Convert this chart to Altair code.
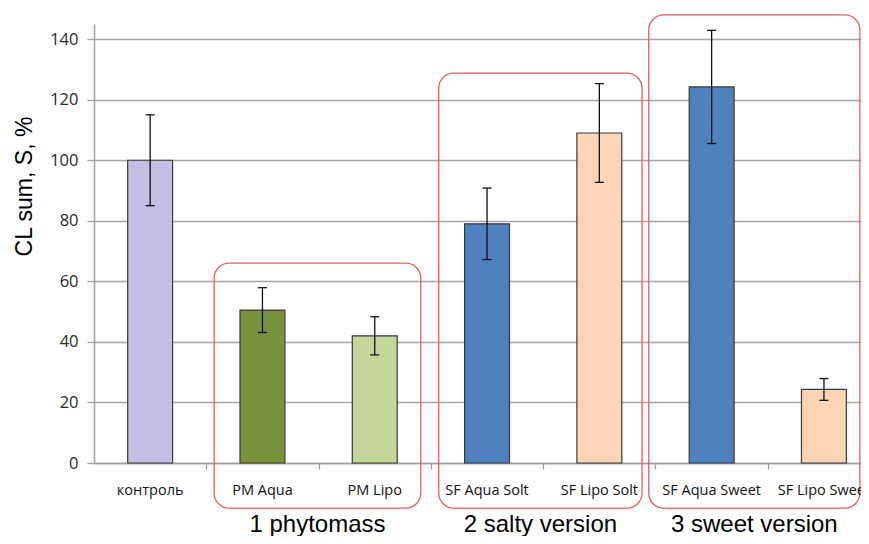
import altair as alt
import pandas as pd

categories = ["контроль", "PM Aqua", "PM Lipo", "SF Aqua Solt", "SF Lipo Solt", "SF Aqua Sweet", "SF Lipo Sweet"]
values = [100, 50.5, 42, 79, 109, 124.2, 24.3]
errors = [15, 7.4, 6.3, 11.8, 16.3, 18.7, 3.6]
colors = ["#C6BFE4", "#77933C", "#C4D79B", "#4F81BD", "#FCD5B4", "#4F81BD", "#FCD5B4"]

groups = ["1 phytomass", "2 salty version", "3 sweet version"]
group_start = [0.57, 2.57, 4.44]
group_end = [2.41, 4.38, 6.32]
group_top = [66, 128.8, 148]
group_bottom = [-14.9, -14.9, -14.9]

y_ticks = [0, 20, 40, 60, 80, 100, 120, 140]

df = pd.DataFrame({
    "i": list(range(len(categories))),
    "cat": categories,
    "v": values,
    "e": errors,
    "c": colors,
})
gdf = pd.DataFrame({
    "g": groups,
    "x0": group_start,
    "x1": group_end,
    "top": group_top,
    "bot": group_bottom,
})
gdf["xm"] = (gdf["x0"] + gdf["x1"]) / 2

xscale = alt.Scale(domain=[-0.5, 6.33], nice=False, zero=False)
yscale = alt.Scale(domain=[0, 145], nice=False)

FONT = "Open Sans"

xaxis = alt.Axis(
    values=[0.5, 1.5, 2.5, 3.5, 4.5, 5.5], labels=False, title=None, grid=False,
    tickSize=6, tickColor="#A0A0A0", domainColor="#A0A0A0", domainWidth=1.5, tickWidth=1.3)
yaxis = alt.Axis(
    values=y_ticks, title="CL sum, S, %", grid=True, gridColor="#A6A6A6", gridWidth=1.4,
    tickSize=7, tickColor="#A0A0A0", domainColor="#A0A0A0", domainWidth=1.5, tickWidth=1.3,
    labels=True, labelPadding=9,
    titleFont="Liberation Sans", titleFontSize=23, titleFontWeight="normal",
    titleColor="#000000", titleX=-70, titleY=162, titleAlign="center",
    titleBaseline="middle", titleAngle=-90)

base = alt.Chart(df).transform_calculate(
    b0="datum.i - 0.2", b1="datum.i + 0.2",
    lo="datum.v - datum.e", hi="datum.v + datum.e",
    c0="datum.i - 0.04", c1="datum.i + 0.04",
)

bars = base.mark_bar(stroke="#3a3a3a", strokeWidth=1.2).encode(
    x=alt.X("b0:Q", scale=xscale, axis=xaxis),
    x2="b1:Q",
    y=alt.Y("v:Q", scale=yscale, axis=yaxis),
    y2=alt.Y2(datum=0),
    fill=alt.Fill("c:N", scale=None),
)

err = base.mark_rule(color="#111111", strokeWidth=1.3).encode(
    x=alt.X("i:Q", scale=xscale, axis=xaxis),
    y=alt.Y("lo:Q", scale=yscale, axis=yaxis),
    y2="hi:Q",
)
cap_hi = base.mark_rule(color="#111111", strokeWidth=1.3).encode(
    x=alt.X("c0:Q", scale=xscale, axis=xaxis), x2="c1:Q",
    y=alt.Y("hi:Q", scale=yscale, axis=yaxis),
)
cap_lo = base.mark_rule(color="#111111", strokeWidth=1.3).encode(
    x=alt.X("c0:Q", scale=xscale, axis=xaxis), x2="c1:Q",
    y=alt.Y("lo:Q", scale=yscale, axis=yaxis),
)

cat_labels = alt.Chart(df).mark_text(
    font=FONT, fontSize=14.5, color="#111111", baseline="middle", align="center"
).encode(
    x=alt.X("i:Q", scale=xscale, axis=xaxis),
    y=alt.value(467),
    text="cat:N",
)

boxes = alt.Chart(gdf).mark_rect(
    fillOpacity=0, fill="white", stroke="#F05A5A", strokeWidth=1.3, cornerRadius=15
).encode(
    x=alt.X("x0:Q", scale=xscale, axis=xaxis), x2="x1:Q",
    y=alt.Y("top:Q", scale=yscale, axis=yaxis), y2="bot:Q",
)

group_labels = alt.Chart(gdf).mark_text(
    font="Liberation Sans", fontSize=24, color="#000000", baseline="alphabetic", align="center"
).encode(
    x=alt.X("xm:Q", scale=xscale, axis=xaxis),
    y=alt.value(508),
    text="g:N",
)

chart = alt.layer(bars, err, cap_hi, cap_lo, boxes, cat_labels, group_labels).properties(
    width=767, height=439,
    autosize=alt.AutoSizeParams(type="none"),
    padding={"left": 86, "right": 0, "top": 16, "bottom": 73},
).configure_view(strokeWidth=0).configure_axis(
    labelFont=FONT, labelFontSize=16.5, labelColor="#2a2a2a"
)

chart.save("out.html", embed_options={"renderer": "svg", "actions": False})
